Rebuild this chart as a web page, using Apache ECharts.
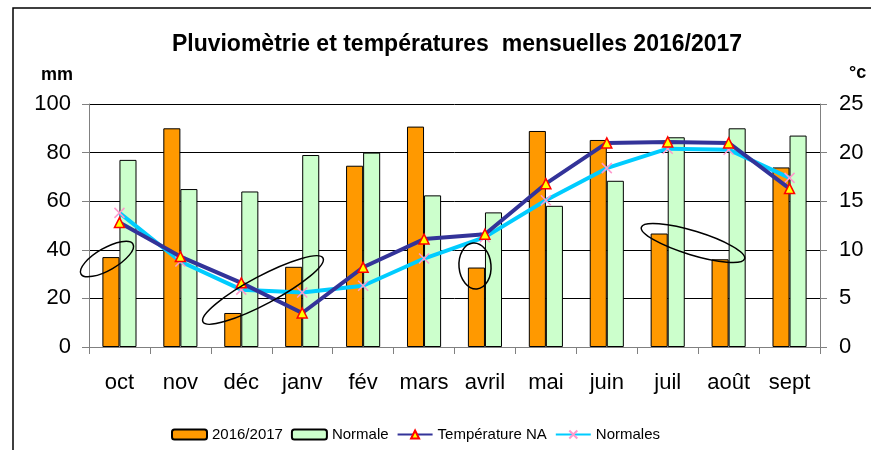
<!DOCTYPE html>
<html>
<head>
<meta charset="utf-8">
<script src="https://cdn.jsdelivr.net/npm/echarts@6/dist/echarts.min.js"></script>
<style>
  html, body { margin: 0; padding: 0; background: #fff; }
  #chart { width: 871px; height: 450px; }
</style>
</head>
<body>
<div id="chart"></div>
<script>
// mois
var months = ['oct', 'nov', 'déc', 'janv', 'fév', 'mars', 'avril', 'mai', 'juin', 'juil', 'août', 'sept']
// pluie (mm)
var rain2016 = [37, 90, 14, 33, 74.6, 90.7, 32.7, 88.9, 85.2, 46.7, 36.1, 73.9]
var rainNormal = [77, 65, 64, 79, 80, 62.4, 55.4, 58.1, 68.4, 86.3, 90, 87]
// températures (°c)
var tempNA = [12.8, 9.3, 6.6, 3.5, 8.2, 11.1, 11.6, 16.8, 21.0, 21.1, 21.0, 16.3]
var tempNormal = [13.8, 8.8, 5.9, 5.6, 6.3, 9.1, 11.3, 15.1, 18.4, 20.4, 20.3, 17.4]
var mmTicks = [0, 20, 40, 60, 80, 100]
var degTicks = [0, 5, 10, 15, 20, 25]

var font = 'Liberation Sans, Arial, sans-serif'
var myChart = echarts.init(document.getElementById('chart'))

// ellipses dessinées à la main sur le graphique d'origine
function ellipse (cx, cy, rx, ry, deg) {
  return {
    type: 'ellipse',
    shape: { cx: cx, cy: cy, rx: rx, ry: ry },
    rotation: deg * Math.PI / 180,
    originX: cx,
    originY: cy,
    origin: [cx, cy],
    style: { fill: 'none', stroke: '#000', lineWidth: 1.5 },
    z: 100
  }
}

var option = {
  animation: false,
  textStyle: { fontFamily: font },
  title: {
    text: 'Pluviomètrie et températures  mensuelles 2016/2017',
    left: 452,
    textAlign: 'center',
    top: 28,
    textStyle: { fontSize: 23, fontWeight: 'bold', color: '#000', fontFamily: font }
  },
  legend: {
    left: 166,
    top: 422,
    itemWidth: 35,
    itemHeight: 10,
    itemGap: 8,
    textStyle: { fontSize: 15, color: '#000', fontFamily: font },
    data: ['2016/2017', 'Normale', 'Température NA', 'Normales']
  },
  grid: { left: 89, right: 51, top: 104, bottom: 103 },
  xAxis: {
    type: 'category',
    data: months,
    axisLine: { lineStyle: { color: '#808080', width: 1 } },
    axisTick: { show: true, length: 7, lineStyle: { color: '#808080' } },
    axisLabel: { interval: 0, fontSize: 22, color: '#000', margin: 25, fontFamily: font }
  },
  yAxis: [{
    type: 'value',
    min: mmTicks[0],
    max: mmTicks[mmTicks.length - 1],
    interval: 20,
    axisLine: { show: true, lineStyle: { color: '#808080' } },
    axisTick: { show: true, length: 7, lineStyle: { color: '#808080' } },
    axisLabel: { fontSize: 22, color: '#000', margin: 18, fontFamily: font },
    splitLine: { lineStyle: { color: '#000', width: 1 } }
  }, {
    type: 'value',
    min: degTicks[0],
    max: degTicks[degTicks.length - 1],
    interval: 5,
    axisLine: { show: true, lineStyle: { color: '#808080' } },
    axisTick: { show: true, length: 7, lineStyle: { color: '#808080' } },
    axisLabel: { fontSize: 22, color: '#000', margin: 19, fontFamily: font },
    splitLine: { show: false }
  }],
  graphic: [
    { type: 'rect', shape: { x: 13, y: 8, width: 900, height: 500 }, style: { fill: 'none', stroke: '#000', lineWidth: 1.5 } },
    { type: 'text', left: 41, top: 66, style: { text: 'mm', font: 'bold 18px ' + font, fill: '#000' } },
    { type: 'text', left: 849, top: 64, style: { text: '°c', font: 'bold 18px ' + font, fill: '#000' } },
    ellipse(107, 259, 30, 11, 30),
    ellipse(263, 290, 68, 14, 28),
    ellipse(475, 266, 16, 23, 5),
    ellipse(693, 243, 54, 12, -17)
  ],
  series: [{
    name: '2016/2017',
    type: 'bar',
    data: rain2016,
    barGap: '0%',
    barCategoryGap: '44%',
    itemStyle: { color: '#FF9900', borderColor: '#000', borderWidth: 1 }
  }, {
    name: 'Normale',
    type: 'bar',
    data: rainNormal,
    itemStyle: { color: '#CCFFCC', borderColor: '#000', borderWidth: 1 }
  }, {
    name: 'Température NA',
    type: 'line',
    yAxisIndex: 1,
    data: tempNA,
    symbol: 'triangle',
    symbolSize: 10,
    lineStyle: { color: '#333399', width: 4 },
    itemStyle: { color: '#FFFF00', borderColor: '#FF0000', borderWidth: 1.5 },
    z: 5
  }, {
    name: 'Normales',
    type: 'line',
    yAxisIndex: 1,
    data: tempNormal,
    symbol: 'path://M0,0L10,10M10,0L0,10',
    symbolSize: 10,
    lineStyle: { color: '#00CCFF', width: 4 },
    itemStyle: { color: 'none', borderColor: '#FF99CC', borderWidth: 1.5 },
    z: 4
  }]
}
myChart.setOption(option)
</script>
</body>
</html>
